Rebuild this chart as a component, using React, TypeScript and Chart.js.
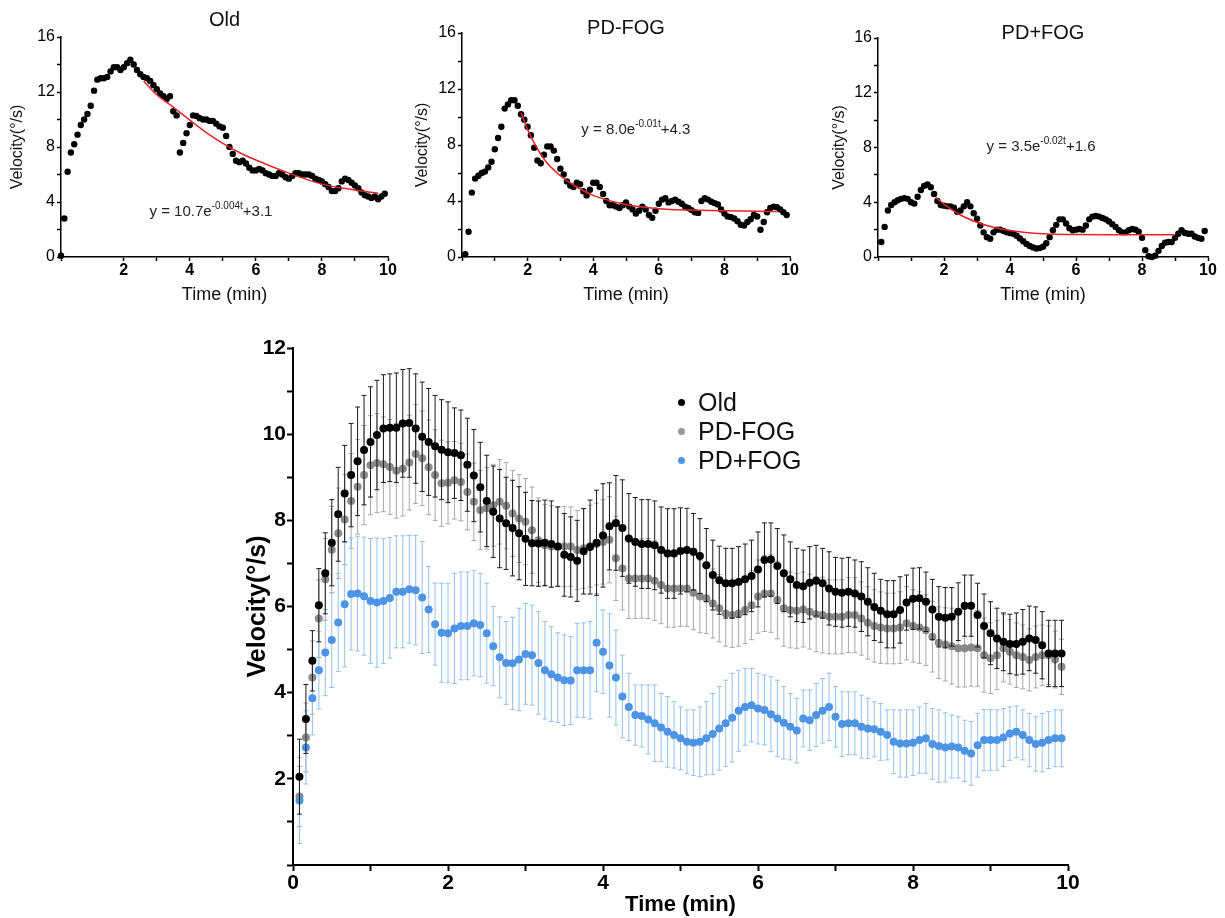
import React, { useEffect, useRef } from "react";
import { Chart, registerables } from "chart.js";

Chart.register(...registerables);

const FONT = "'Liberation Sans', Arial, Helvetica, sans-serif";

// ---------- time grids ----------
// big chart: one mean every 5 s (0.083 … 9.917 min)
const BIG_T = Array.from({ length: 119 }, (_, i) => ((i + 1) * 5) / 60);
// single-subject panels: one sample every 0.1 min
const SMALL_T = Array.from({ length: 99 }, (_, i) => (i + 1) / 10);

// ---------- group means (big chart) ----------
const OLD_MEAN = [
  2.05, 3.39, 4.74, 6.03, 6.77, 7.48, 8.14, 8.62, 9.05, 9.37,
  9.63, 9.82, 9.98, 10.13, 10.15, 10.15, 10.25, 10.26, 10.13, 9.94,
  9.82, 9.72, 9.64, 9.58, 9.56, 9.51, 9.29, 9.04, 8.77, 8.45,
  8.2, 8.04, 7.93, 7.82, 7.7, 7.57, 7.47, 7.46, 7.48, 7.45,
  7.39, 7.2, 7.15, 7.06, 7.28, 7.38, 7.48, 7.65, 7.86, 7.94,
  7.82, 7.58, 7.5, 7.45, 7.45, 7.42, 7.31, 7.23, 7.23, 7.29,
  7.31, 7.27, 7.17, 6.96, 6.73, 6.61, 6.54, 6.54, 6.57, 6.63,
  6.71, 6.86, 7.08, 7.09, 6.94, 6.77, 6.63, 6.5, 6.47, 6.55,
  6.6, 6.54, 6.42, 6.34, 6.32, 6.34, 6.3, 6.23, 6.11, 5.99,
  5.9, 5.82, 5.82, 5.92, 6.09, 6.18, 6.19, 6.11, 5.93, 5.76,
  5.74, 5.76, 5.88, 6.02, 6.02, 5.8, 5.55, 5.38, 5.26, 5.18,
  5.13, 5.13, 5.18, 5.26, 5.22, 5.1, 4.91, 4.91, 4.91,
];
const OLD_ERR = [
  0.87, 0.8, 0.7, 0.85, 0.94, 1.0, 1.09, 1.12, 1.2, 1.26,
  1.27, 1.28, 1.27, 1.25, 1.25, 1.27, 1.25, 1.26, 1.27, 1.27,
  1.24, 1.18, 1.16, 1.17, 1.05, 1.05, 1.08, 1.07, 1.04, 1.06,
  1.06, 1.14, 1.07, 1.11, 1.08, 1.08, 0.99, 0.99, 0.99, 1.0,
  0.92, 0.96, 0.93, 0.94, 0.99, 1.09, 1.22, 1.2, 1.01, 1.1,
  1.12, 1.04, 1.03, 1.03, 1.03, 1.03, 1.0, 1.04, 1.04, 1.0,
  0.97, 0.89, 0.87, 0.85, 0.81, 0.79, 0.81, 0.81, 0.82, 0.82,
  0.83, 0.87, 0.86, 0.85, 0.87, 0.89, 0.87, 0.85, 0.84, 0.84,
  0.82, 0.81, 0.85, 0.8, 0.8, 0.8, 0.78, 0.81, 0.79, 0.78,
  0.73, 0.78, 0.78, 0.77, 0.64, 0.71, 0.71, 0.69, 0.7, 0.7,
  0.7, 0.68, 0.67, 0.71, 0.71, 0.74, 0.74, 0.73, 0.7, 0.67,
  0.69, 0.72, 0.75, 0.75, 0.77, 0.78, 0.77, 0.77, 0.77,
];
const PDM_MEAN = [
  1.59, 2.96, 4.35, 5.72, 6.63, 7.32, 7.7, 8.02, 8.45, 8.78,
  9.05, 9.28, 9.33, 9.3, 9.24, 9.15, 9.2, 9.34, 9.54, 9.44,
  9.23, 9.05, 8.86, 8.87, 8.93, 8.89, 8.66, 8.43, 8.24, 8.28,
  8.35, 8.43, 8.34, 8.16, 8.04, 7.97, 7.77, 7.54, 7.42, 7.39,
  7.39, 7.39, 7.39, 7.31, 7.35, 7.4, 7.45, 7.5, 7.55, 7.12,
  6.88, 6.65, 6.65, 6.65, 6.65, 6.6, 6.5, 6.42, 6.42, 6.42,
  6.42, 6.32, 6.23, 6.19, 6.07, 5.96, 5.84, 5.8, 5.84, 5.92,
  6.03, 6.23, 6.3, 6.3, 6.15, 5.96, 5.92, 5.9, 5.93, 5.88,
  5.82, 5.8, 5.76, 5.76, 5.76, 5.8, 5.8, 5.72, 5.62, 5.55,
  5.51, 5.49, 5.49, 5.51, 5.61, 5.55, 5.51, 5.45, 5.3, 5.16,
  5.12, 5.08, 5.03, 5.03, 5.05, 5.03, 4.87, 4.8, 4.87, 5.03,
  4.95, 4.87, 4.83, 4.76, 4.83, 4.87, 4.87, 4.77, 4.6,
];
const PDM_ERR = [
  0.7, 0.8, 0.85, 0.9, 0.95, 1.0, 1.05, 1.05, 1.1, 1.1,
  1.15, 1.15, 1.15, 1.1, 1.1, 1.1, 1.1, 1.1, 1.15, 1.1,
  1.1, 1.05, 1.0, 0.95, 0.9, 0.9, 0.88, 0.9, 0.92, 0.95,
  0.95, 0.98, 1.0, 1.0, 1.02, 1.0, 1.0, 0.98, 0.95, 0.95,
  0.93, 0.93, 0.92, 0.92, 0.93, 0.95, 0.95, 0.98, 1.0, 0.98,
  0.96, 0.93, 0.93, 0.92, 0.93, 0.92, 0.9, 0.9, 0.9, 0.88,
  0.88, 0.86, 0.84, 0.82, 0.8, 0.78, 0.76, 0.75, 0.76, 0.78,
  0.8, 0.85, 0.88, 0.9, 0.9, 0.88, 0.88, 0.87, 0.87, 0.87,
  0.87, 0.88, 0.86, 0.86, 0.86, 0.87, 0.87, 0.85, 0.84, 0.84,
  0.83, 0.82, 0.82, 0.83, 0.85, 0.84, 0.83, 0.82, 0.82, 0.83,
  0.85, 0.88, 0.9, 0.9, 0.9, 0.88, 0.86, 0.82, 0.8, 0.78,
  0.75, 0.75, 0.74, 0.72, 0.72, 0.7, 0.68, 0.66, 0.64,
];
const PDP_MEAN = [
  1.5, 2.73, 3.87, 4.52, 4.93, 5.22, 5.63, 6.05, 6.29, 6.3,
  6.24, 6.13, 6.09, 6.13, 6.2, 6.34, 6.34, 6.4, 6.38, 6.21,
  5.93, 5.59, 5.39, 5.38, 5.49, 5.55, 5.55, 5.61, 5.57, 5.38,
  5.08, 4.82, 4.69, 4.68, 4.77, 4.9, 4.87, 4.69, 4.52, 4.43,
  4.35, 4.29, 4.28, 4.52, 4.52, 4.52, 5.16, 4.95, 4.63, 4.35,
  3.91, 3.67, 3.48, 3.46, 3.38, 3.29, 3.19, 3.09, 3.02, 2.94,
  2.86, 2.84, 2.86, 2.94, 3.04, 3.17, 3.29, 3.42, 3.58, 3.67,
  3.71, 3.63, 3.6, 3.5, 3.4, 3.3, 3.21, 3.12, 3.4, 3.36,
  3.48, 3.58, 3.67, 3.44, 3.27, 3.29, 3.29, 3.21, 3.17, 3.15,
  3.09, 3.02, 2.86, 2.82, 2.82, 2.84, 2.9, 2.94, 2.81, 2.76,
  2.73, 2.75, 2.73, 2.65, 2.59, 2.78, 2.9, 2.9, 2.9, 2.96,
  3.05, 3.09, 3.02, 2.9, 2.81, 2.84, 2.9, 2.94, 2.94,
];
const PDP_ERR = [
  1.0, 0.85, 0.85, 0.9, 1.0, 1.1, 1.14, 1.45, 1.3, 1.33,
  1.37, 1.45, 1.5, 1.45, 1.4, 1.3, 1.3, 1.25, 1.27, 1.3,
  1.0, 0.95, 1.15, 1.15, 1.28, 1.25, 1.25, 1.22, 1.2, 1.16,
  0.92, 0.94, 0.96, 1.07, 1.19, 1.17, 1.16, 1.19, 1.13, 1.1,
  1.04, 1.05, 1.02, 1.09, 1.1, 1.13, 1.14, 0.97, 1.2, 1.1,
  0.96, 0.78, 0.7, 0.72, 0.8, 0.89, 0.79, 0.82, 0.77, 0.73,
  0.74, 0.76, 0.81, 0.85, 0.94, 0.97, 1.0, 1.03, 0.94, 0.89,
  0.85, 0.82, 0.81, 0.87, 0.89, 0.84, 0.77, 0.75, 0.66, 0.7,
  0.73, 0.75, 0.78, 0.7, 0.75, 0.73, 0.73, 0.73, 0.7, 0.64,
  0.66, 0.58, 0.74, 0.78, 0.78, 0.76, 0.77, 0.81, 0.82, 0.84,
  0.8, 0.73, 0.71, 0.71, 0.74, 0.74, 0.71, 0.71, 0.7, 0.67,
  0.62, 0.6, 0.58, 0.62, 0.63, 0.68, 0.66, 0.66, 0.66,
];

// ---------- single-subject panels ----------
const OLD_IND = [
  0.1, 2.8, 6.2, 7.6, 8.2, 8.9, 9.6, 10.0, 10.4, 11.0,
  12.1, 12.9, 13.0, 13.0, 13.1, 13.5, 13.8, 13.8, 13.6, 13.8,
  14.1, 14.35, 14.0, 13.6, 13.3, 13.1, 13.0, 12.8, 12.5, 12.2,
  11.9, 11.7, 11.5, 11.7, 10.6, 10.3, 7.6, 8.3, 9.0, 9.6,
  10.3, 10.25, 10.1, 10.0, 10.0, 9.9, 9.9, 9.7, 9.5, 9.4,
  8.8, 8.0, 7.5, 7.0, 6.9, 7.0, 6.8, 6.5, 6.3, 6.3,
  6.4, 6.3, 6.1, 6.0, 5.9, 5.9, 6.1, 6.0, 5.8, 5.7,
  5.9, 6.1, 6.1, 6.0, 6.0, 6.0, 5.9, 5.7, 5.6, 5.5,
  5.3, 5.1, 4.8, 4.8, 5.0, 5.5, 5.7, 5.6, 5.4, 5.2,
  5.0, 4.7, 4.5, 4.4, 4.3, 4.4, 4.2, 4.4, 4.6,
];
const PDM_IND = [
  0.2, 1.8, 4.6, 5.6, 5.8, 6.0, 6.1, 6.4, 6.8, 7.7,
  8.5, 9.3, 10.6, 10.9, 11.2, 11.2, 10.8, 10.2, 9.8, 9.3,
  8.7, 7.8, 6.9, 6.7, 7.3, 7.9, 7.9, 7.6, 7.0, 6.3,
  5.9, 5.4, 5.1, 5.0, 5.3, 5.2, 4.7, 4.4, 4.8, 5.3,
  5.3, 5.0, 4.5, 4.0, 3.7, 3.7, 3.6, 3.5, 3.7, 3.9,
  3.6, 3.4, 3.1, 3.3, 3.6, 3.4, 3.0, 2.8, 3.3, 3.8,
  4.1, 4.2, 3.9, 4.0, 4.1, 3.95, 3.8, 3.6, 3.5, 3.35,
  3.2, 3.15, 4.0, 4.2, 4.1, 3.95, 3.85, 3.75, 3.4, 3.1,
  2.9, 2.85, 2.75, 2.55, 2.3, 2.25, 2.5, 2.7, 3.0, 2.9,
  1.95, 2.5, 3.2, 3.5, 3.6, 3.55, 3.4, 3.2, 3.0,
];
const PDP_IND = [
  1.1, 2.2, 3.4, 3.8, 4.0, 4.15, 4.25, 4.3, 4.25, 4.0,
  3.9, 4.4, 4.9, 5.2, 5.3, 5.1, 4.6, 4.1, 3.8, 3.75,
  3.7, 3.7, 3.6, 3.3, 3.4, 3.7, 4.0, 3.7, 3.2, 2.8,
  2.3, 1.8, 1.45, 1.33, 1.8, 2.0, 2.0, 1.9, 1.8, 1.75,
  1.7, 1.55, 1.35, 1.15, 0.95, 0.8, 0.7, 0.62, 0.65, 0.75,
  1.0, 1.45, 1.95, 2.35, 2.75, 2.75, 2.45, 2.1, 1.95, 2.0,
  2.05, 2.0, 2.3, 2.75, 2.95, 3.0, 2.95, 2.85, 2.75, 2.6,
  2.4, 2.2, 1.95, 1.8, 1.8, 1.95, 2.05, 2.0, 1.85, 1.4,
  0.5, 0.05, 0.0, 0.1, 0.45, 0.8, 1.05, 1.1, 1.1, 1.4,
  1.7, 1.95, 1.75, 1.7, 1.7, 1.5, 1.4, 1.33, 1.9,
];

// ---------- fitted exponential curves ----------
const OLD_FIT_T = [2.6, 3, 3.5, 4, 4.5, 5, 5.5, 6, 7, 8, 9, 9.7];
const OLD_FIT_V = [12.8, 11.8, 10.9, 9.95, 9.05, 8.27, 7.6, 7.05, 6.1, 5.3, 4.87, 4.63];
const PDM_FIT_T = [1.8, 2, 2.5, 3, 3.5, 4, 5, 6, 7, 8, 9, 9.6];
const PDM_FIT_V = [10.3, 9.1, 7.0, 5.8, 5.0, 4.4, 3.75, 3.45, 3.35, 3.3, 3.27, 3.25];
const PDP_FIT_T = [1.75, 2, 2.5, 3, 3.5, 4, 5, 6, 7, 8, 9];
const PDP_FIT_V = [4.35, 3.86, 3.07, 2.54, 2.17, 1.93, 1.69, 1.64, 1.62, 1.62, 1.62];

const PANEL_TITLES = ["Old", "PD-FOG", "PD+FOG"];
const EQUATIONS = [
  { base: "y = 10.7e", sup: "-0.004t", tail: "+3.1" },
  { base: "y = 8.0e", sup: "-0.01t", tail: "+4.3" },
  { base: "y = 3.5e", sup: "-0.02t", tail: "+1.6" },
];
const LEGEND_LABELS = ["Old", "PD-FOG", "PD+FOG"];
const LEGEND_COLORS = ["#000000", "#9a9a9a", "#4d94e5"];

const pts = (xs: number[], ys: number[]) => ys.map((y, i) => ({ x: xs[i], y }));

function errorBars(mean: number[], err: number[]) {
  const out: { x: number; y: number | null }[] = [];
  mean.forEach((m, i) => {
    out.push({ x: BIG_T[i], y: m - err[i] });
    out.push({ x: BIG_T[i], y: m + err[i] });
    out.push({ x: BIG_T[i], y: null });
  });
  return out;
}

// draws the fitted equation (with superscript) at a data position
const equationPlugin = {
  id: "equation",
  afterDatasetsDraw(chart: any, _args: any, opts: any) {
    if (!opts || !opts.base) return;
    const { ctx } = chart;
    const xs = chart.scales.x;
    const ys = chart.scales.y;
    const px = xs.getPixelForValue(opts.x);
    const py = ys.getPixelForValue(opts.y);
    const size = opts.size || 15;
    const main = `${size}px ${FONT}`;
    const small = `${Math.round(size * 0.66)}px ${FONT}`;
    ctx.save();
    ctx.fillStyle = "#222";
    ctx.textBaseline = "middle";
    ctx.textAlign = "left";
    ctx.font = main;
    const w1 = ctx.measureText(opts.base).width;
    const w3 = ctx.measureText(opts.tail).width;
    ctx.font = small;
    const w2 = ctx.measureText(opts.sup).width;
    const x0 = px - (w1 + w2 + w3) / 2;
    ctx.font = main;
    ctx.fillText(opts.base, x0, py);
    ctx.font = small;
    ctx.fillText(opts.sup, x0 + w1, py - size * 0.38);
    ctx.font = main;
    ctx.fillText(opts.tail, x0 + w1 + w2, py);
    ctx.restore();
  },
};

function smallConfig(o: any): any {
  return {
    type: "scatter",
    data: {
      datasets: [
        {
          type: "line",
          data: pts(o.fitT, o.fitV),
          borderColor: "#e3262b",
          borderWidth: 1.5,
          pointRadius: 0,
          cubicInterpolationMode: "monotone",
          fill: false,
          order: 0,
        },
        {
          type: "scatter",
          data: pts(SMALL_T, o.values),
          pointRadius: 3.2,
          backgroundColor: "#000",
          borderWidth: 0,
          clip: false,
          order: 1,
        },
      ],
    },
    options: {
      responsive: false,
      animation: false,
      events: [],
      layout: { padding: { left: 0, top: 0, right: o.padRight, bottom: 0 } },
      plugins: {
        legend: { display: false },
        tooltip: { enabled: false },
        title: {
          display: true,
          text: o.title,
          fullSize: false,
          color: "#111",
          font: { family: FONT, size: 20, weight: "normal", lineHeight: 1 },
          padding: { top: o.titleTop, bottom: o.titleBottom },
        },
        equation: o.eq,
      },
      scales: {
        x: {
          type: "linear",
          min: o.xMin,
          max: 10,
          afterFit: (s: any) => {
            s.height = 53;
          },
          border: { display: true, color: "#000", width: 1.5 },
          grid: { display: true, drawOnChartArea: false, drawTicks: true, tickLength: 4, tickColor: "#000", tickWidth: 1.5, color: "#000" },
          ticks: {
            stepSize: 1,
            autoSkip: false,
            maxRotation: 0,
            padding: 0,
            color: "#000",
            font: { family: FONT, size: 16, weight: "bold" },
            callback: (v: number) => (v % 2 === 0 && v !== 0 ? String(v) : ""),
          },
          title: { display: true, text: "Time (min)", color: "#111", font: { family: FONT, size: 18 }, padding: { top: 0, bottom: 4 } },
        },
        y: {
          type: "linear",
          min: 0,
          max: 16,
          afterFit: (s: any) => {
            s.width = o.yWidth;
          },
          border: { display: true, color: "#000", width: 1.5 },
          grid: { display: true, drawOnChartArea: false, drawTicks: true, tickLength: 4, tickColor: "#000", tickWidth: 1.5, color: "#000" },
          ticks: {
            stepSize: 2,
            autoSkip: false,
            padding: 2,
            color: "#000",
            font: { family: FONT, size: 16 },
            callback: (v: number) => (v % 4 === 0 ? String(v) : ""),
          },
          title: { display: true, text: "Velocity(°/s)", color: "#111", font: { family: FONT, size: 16 }, padding: { top: o.yTitlePad, bottom: 0 } },
        },
      },
    },
    plugins: [equationPlugin],
  };
}

function bigConfig(): any {
  const bar = (color: string, data: any, order: number) => ({
    type: "line",
    data,
    borderColor: color,
    borderWidth: 1,
    pointStyle: "line",
    pointRadius: 2.5,
    pointBorderColor: color,
    pointBorderWidth: 1,
    spanGaps: false,
    fill: false,
    clip: false,
    order,
  });
  const dots = (color: string, data: any, order: number) => ({
    type: "scatter",
    data,
    pointRadius: 4,
    backgroundColor: color,
    borderWidth: 0,
    clip: false,
    order,
  });
  return {
    type: "scatter",
    data: {
      datasets: [
        dots("#000000", pts(BIG_T, OLD_MEAN), 0),
        bar("#1a1a1a", errorBars(OLD_MEAN, OLD_ERR), 1),
        dots("#4d94e5", pts(BIG_T, PDP_MEAN), 2),
        bar("#93c0ee", errorBars(PDP_MEAN, PDP_ERR), 3),
        dots("rgba(125,125,125,0.9)", pts(BIG_T, PDM_MEAN), 4),
        bar("#a8a8a8", errorBars(PDM_MEAN, PDM_ERR), 5),
      ],
    },
    options: {
      responsive: false,
      animation: false,
      events: [],
      layout: { padding: { left: 0, top: 18, right: 27, bottom: 0 } },
      plugins: { legend: { display: false }, tooltip: { enabled: false } },
      scales: {
        x: {
          type: "linear",
          min: 0,
          max: 10,
          afterFit: (s: any) => {
            s.height = 53;
          },
          border: { display: true, color: "#000", width: 2 },
          grid: { display: true, drawOnChartArea: false, drawTicks: true, tickLength: 6, tickColor: "#000", tickWidth: 2, color: "#000" },
          ticks: {
            stepSize: 1,
            autoSkip: false,
            maxRotation: 0,
            padding: 0,
            color: "#000",
            font: { family: FONT, size: 21, weight: "bold" },
            callback: (v: number) => (v % 2 === 0 ? String(v) : ""),
          },
          title: { display: true, text: "Time (min)", color: "#000", font: { family: FONT, size: 22, weight: "bold" }, padding: { top: 0, bottom: 0 } },
        },
        y: {
          type: "linear",
          min: 0,
          max: 12,
          afterFit: (s: any) => {
            s.width = 58;
          },
          border: { display: true, color: "#000", width: 2 },
          grid: { display: true, drawOnChartArea: false, drawTicks: true, tickLength: 6, tickColor: "#000", tickWidth: 2, color: "#000" },
          ticks: {
            stepSize: 1,
            autoSkip: false,
            padding: 1,
            color: "#000",
            font: { family: FONT, size: 21, weight: "bold" },
            callback: (v: number) => (v % 2 === 0 && v !== 0 ? String(v) : ""),
          },
          title: { display: true, text: "Velocity(°/s)", color: "#000", font: { family: FONT, size: 25, weight: "bold" }, padding: { top: 8, bottom: 0 } },
        },
      },
    },
  };
}

const BOXES = {
  old: { left: 0, top: 0, width: 420, height: 310 },
  pdm: { left: 405, top: 0, width: 415, height: 310 },
  pdp: { left: 830, top: 0, width: 395, height: 310 },
  big: { left: 235, top: 330, width: 860, height: 588 },
};

export default function App() {
  const oldRef = useRef<HTMLCanvasElement>(null);
  const pdmRef = useRef<HTMLCanvasElement>(null);
  const pdpRef = useRef<HTMLCanvasElement>(null);
  const bigRef = useRef<HTMLCanvasElement>(null);

  useEffect(() => {
    const charts: Chart[] = [];
    charts.push(
      new Chart(
        oldRef.current as HTMLCanvasElement,
        smallConfig({
          title: PANEL_TITLES[0],
          values: OLD_IND,
          fitT: OLD_FIT_T,
          fitV: OLD_FIT_V,
          xMin: 0.1,
          yWidth: 61,
          padRight: 32,
          titleTop: 10,
          titleBottom: 7,
          yTitlePad: 8,
          eq: { ...EQUATIONS[0], x: 4.64, y: 3.3, size: 15 },
        })
      )
    );
    charts.push(
      new Chart(
        pdmRef.current as HTMLCanvasElement,
        smallConfig({
          title: PANEL_TITLES[1],
          values: PDM_IND,
          fitT: PDM_FIT_T,
          fitV: PDM_FIT_V,
          xMin: 0,
          yWidth: 57,
          padRight: 30,
          titleTop: 18,
          titleBottom: -5,
          yTitlePad: 8,
          eq: { ...EQUATIONS[1], x: 5.3, y: 9.1, size: 15 },
        })
      )
    );
    charts.push(
      new Chart(
        pdpRef.current as HTMLCanvasElement,
        smallConfig({
          title: PANEL_TITLES[2],
          values: PDP_IND,
          fitT: PDP_FIT_T,
          fitV: PDP_FIT_V,
          xMin: 0,
          yWidth: 48,
          padRight: 17,
          titleTop: 23,
          titleBottom: -5,
          yTitlePad: 0,
          eq: { ...EQUATIONS[2], x: 4.94, y: 8.07, size: 15 },
        })
      )
    );
    charts.push(new Chart(bigRef.current as HTMLCanvasElement, bigConfig()));
    return () => charts.forEach((c) => c.destroy());
  }, []);

  const canvasStyle = (b: any): React.CSSProperties => ({
    position: "absolute",
    left: b.left,
    top: b.top,
    width: b.width,
    height: b.height,
  });

  return (
    <div style={{ position: "absolute", left: 0, top: 0, width: 1225, height: 918, background: "#fff", overflow: "hidden" }}>
      <canvas ref={oldRef} width={BOXES.old.width} height={BOXES.old.height} style={canvasStyle(BOXES.old)} />
      <canvas ref={pdmRef} width={BOXES.pdm.width} height={BOXES.pdm.height} style={canvasStyle(BOXES.pdm)} />
      <canvas ref={pdpRef} width={BOXES.pdp.width} height={BOXES.pdp.height} style={canvasStyle(BOXES.pdp)} />
      <canvas ref={bigRef} width={BOXES.big.width} height={BOXES.big.height} style={canvasStyle(BOXES.big)} />
      <div style={{ position: "absolute", left: 672, top: 388, font: `25px ${FONT}`, color: "#111" }}>
        {LEGEND_LABELS.map((label, i) => (
          <div key={label} style={{ display: "flex", alignItems: "center", height: 29, lineHeight: "29px" }}>
            <span
              style={{
                display: "inline-block",
                width: 7,
                height: 7,
                borderRadius: "50%",
                background: LEGEND_COLORS[i],
                marginLeft: 5.5,
                marginRight: 13.5,
              }}
            />
            <span>{label}</span>
          </div>
        ))}
      </div>
    </div>
  );
}
